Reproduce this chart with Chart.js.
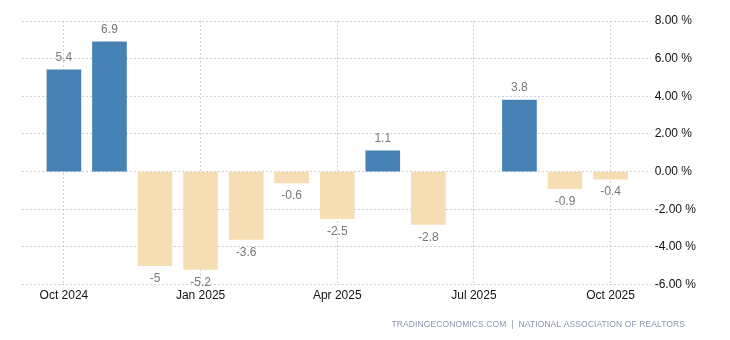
<!DOCTYPE html>
<html>
<head>
<meta charset="utf-8">
<script src="https://cdn.jsdelivr.net/npm/chart.js@4"></script>
<style>
  body { margin: 0; background: #fff; }
  #wrap { width: 730px; height: 340px; }
</style>
</head>
<body>
<div id="wrap"><canvas id="myChart" width="730" height="340"></canvas></div>
<script>
// months shown on the chart, Oct 2024 .. Oct 2025
const months = ["Oct 2024", "Nov 2024", "Dec 2024", "Jan 2025", "Feb 2025", "Mar 2025", "Apr 2025",
                "May 2025", "Jun 2025", "Jul 2025", "Aug 2025", "Sep 2025", "Oct 2025"];
// monthly change in %, Jul 2025 has no bar
const changes = [5.4, 6.9, -5, -5.2, -3.6, -0.6, -2.5, 1.1, -2.8, null, 3.8, -0.9, -0.4];
// which months get an x label
const tickMonths = ["Oct 2024", "Jan 2025", "Apr 2025", "Jul 2025", "Oct 2025"];
const yTicks = [-6, -4, -2, 0, 2, 4, 6, 8];

const points = months.map((m, i) => ({ x: i, y: changes[i] }));

// value labels over / under each bar
const valueLabels = {
    id: 'valueLabels',
    afterDatasetsDraw(chart) {
        const ctx = chart.ctx;
        const meta = chart.getDatasetMeta(0);
        ctx.save();
        ctx.font = '12px "Liberation Sans", Arial, sans-serif';
        ctx.fillStyle = '#777';
        ctx.textAlign = 'center';
        ctx.textBaseline = 'middle';
        meta.data.forEach((bar, i) => {
            const v = changes[i];
            if (v === null) return;
            const y = v >= 0 ? bar.y - 12 : bar.y + 13;
            ctx.fillText(String(v), bar.x, y);
        });
        ctx.restore();
    }
};

const footer = {
    id: 'footer',
    afterDraw(chart) {
        const ctx = chart.ctx;
        ctx.save();
        ctx.font = '8.5px "Liberation Sans", Arial, sans-serif';
        ctx.letterSpacing = '0.1px';
        ctx.fillStyle = '#8a94a8';
        ctx.textAlign = 'right';
        ctx.textBaseline = 'middle';
        ctx.fillText('TRADINGECONOMICS.COM  |  NATIONAL ASSOCIATION OF REALTORS', 685, 325);
        ctx.restore();
    }
};

var ctx = document.getElementById('myChart');
var myChart = new Chart(ctx, {
    type: 'bar',
    data: {
        datasets: [
            {
                data: points,
                backgroundColor: changes.map(v => v >= 0 ? '#4682B4' : '#F5DEB3'),
                barThickness: 34,
                borderWidth: 0
            }
        ]
    },
    options: {
        responsive: false,
        animation: false,
        layout: { padding: { left: 22, right: 30, top: 21, bottom: 33 } },
        plugins: { legend: { display: false }, tooltip: { enabled: false } },
        scales: {
            x: {
                type: 'linear',
                offset: false,
                min: -0.92,
                max: 12.88,
                afterBuildTicks(axis) {
                    axis.ticks = tickMonths.map(m => ({ value: months.indexOf(m) }));
                },
                ticks: {
                    callback: v => months[v],
                    color: '#111',
                    font: { family: '"Liberation Sans", Arial, sans-serif', size: 12 },
                    maxRotation: 0,
                    padding: 4
                },
                grid: { color: '#cfcfcf', offset: false, drawTicks: false },
                border: { display: false, dash: [2, 2] }
            },
            y: {
                position: 'right',
                min: -6,
                max: 8,
                afterBuildTicks(axis) {
                    axis.ticks = yTicks.map(v => ({ value: v }));
                },
                ticks: {
                    callback: v => v.toFixed(2) + ' %',
                    color: '#111',
                    font: { family: '"Liberation Sans", Arial, sans-serif', size: 12 },
                    padding: 4
                },
                grid: { color: '#cfcfcf', drawTicks: false },
                border: { display: false, dash: [2, 2] }
            }
        }
    },
    plugins: [valueLabels, footer]
});
</script>
</body>
</html>
